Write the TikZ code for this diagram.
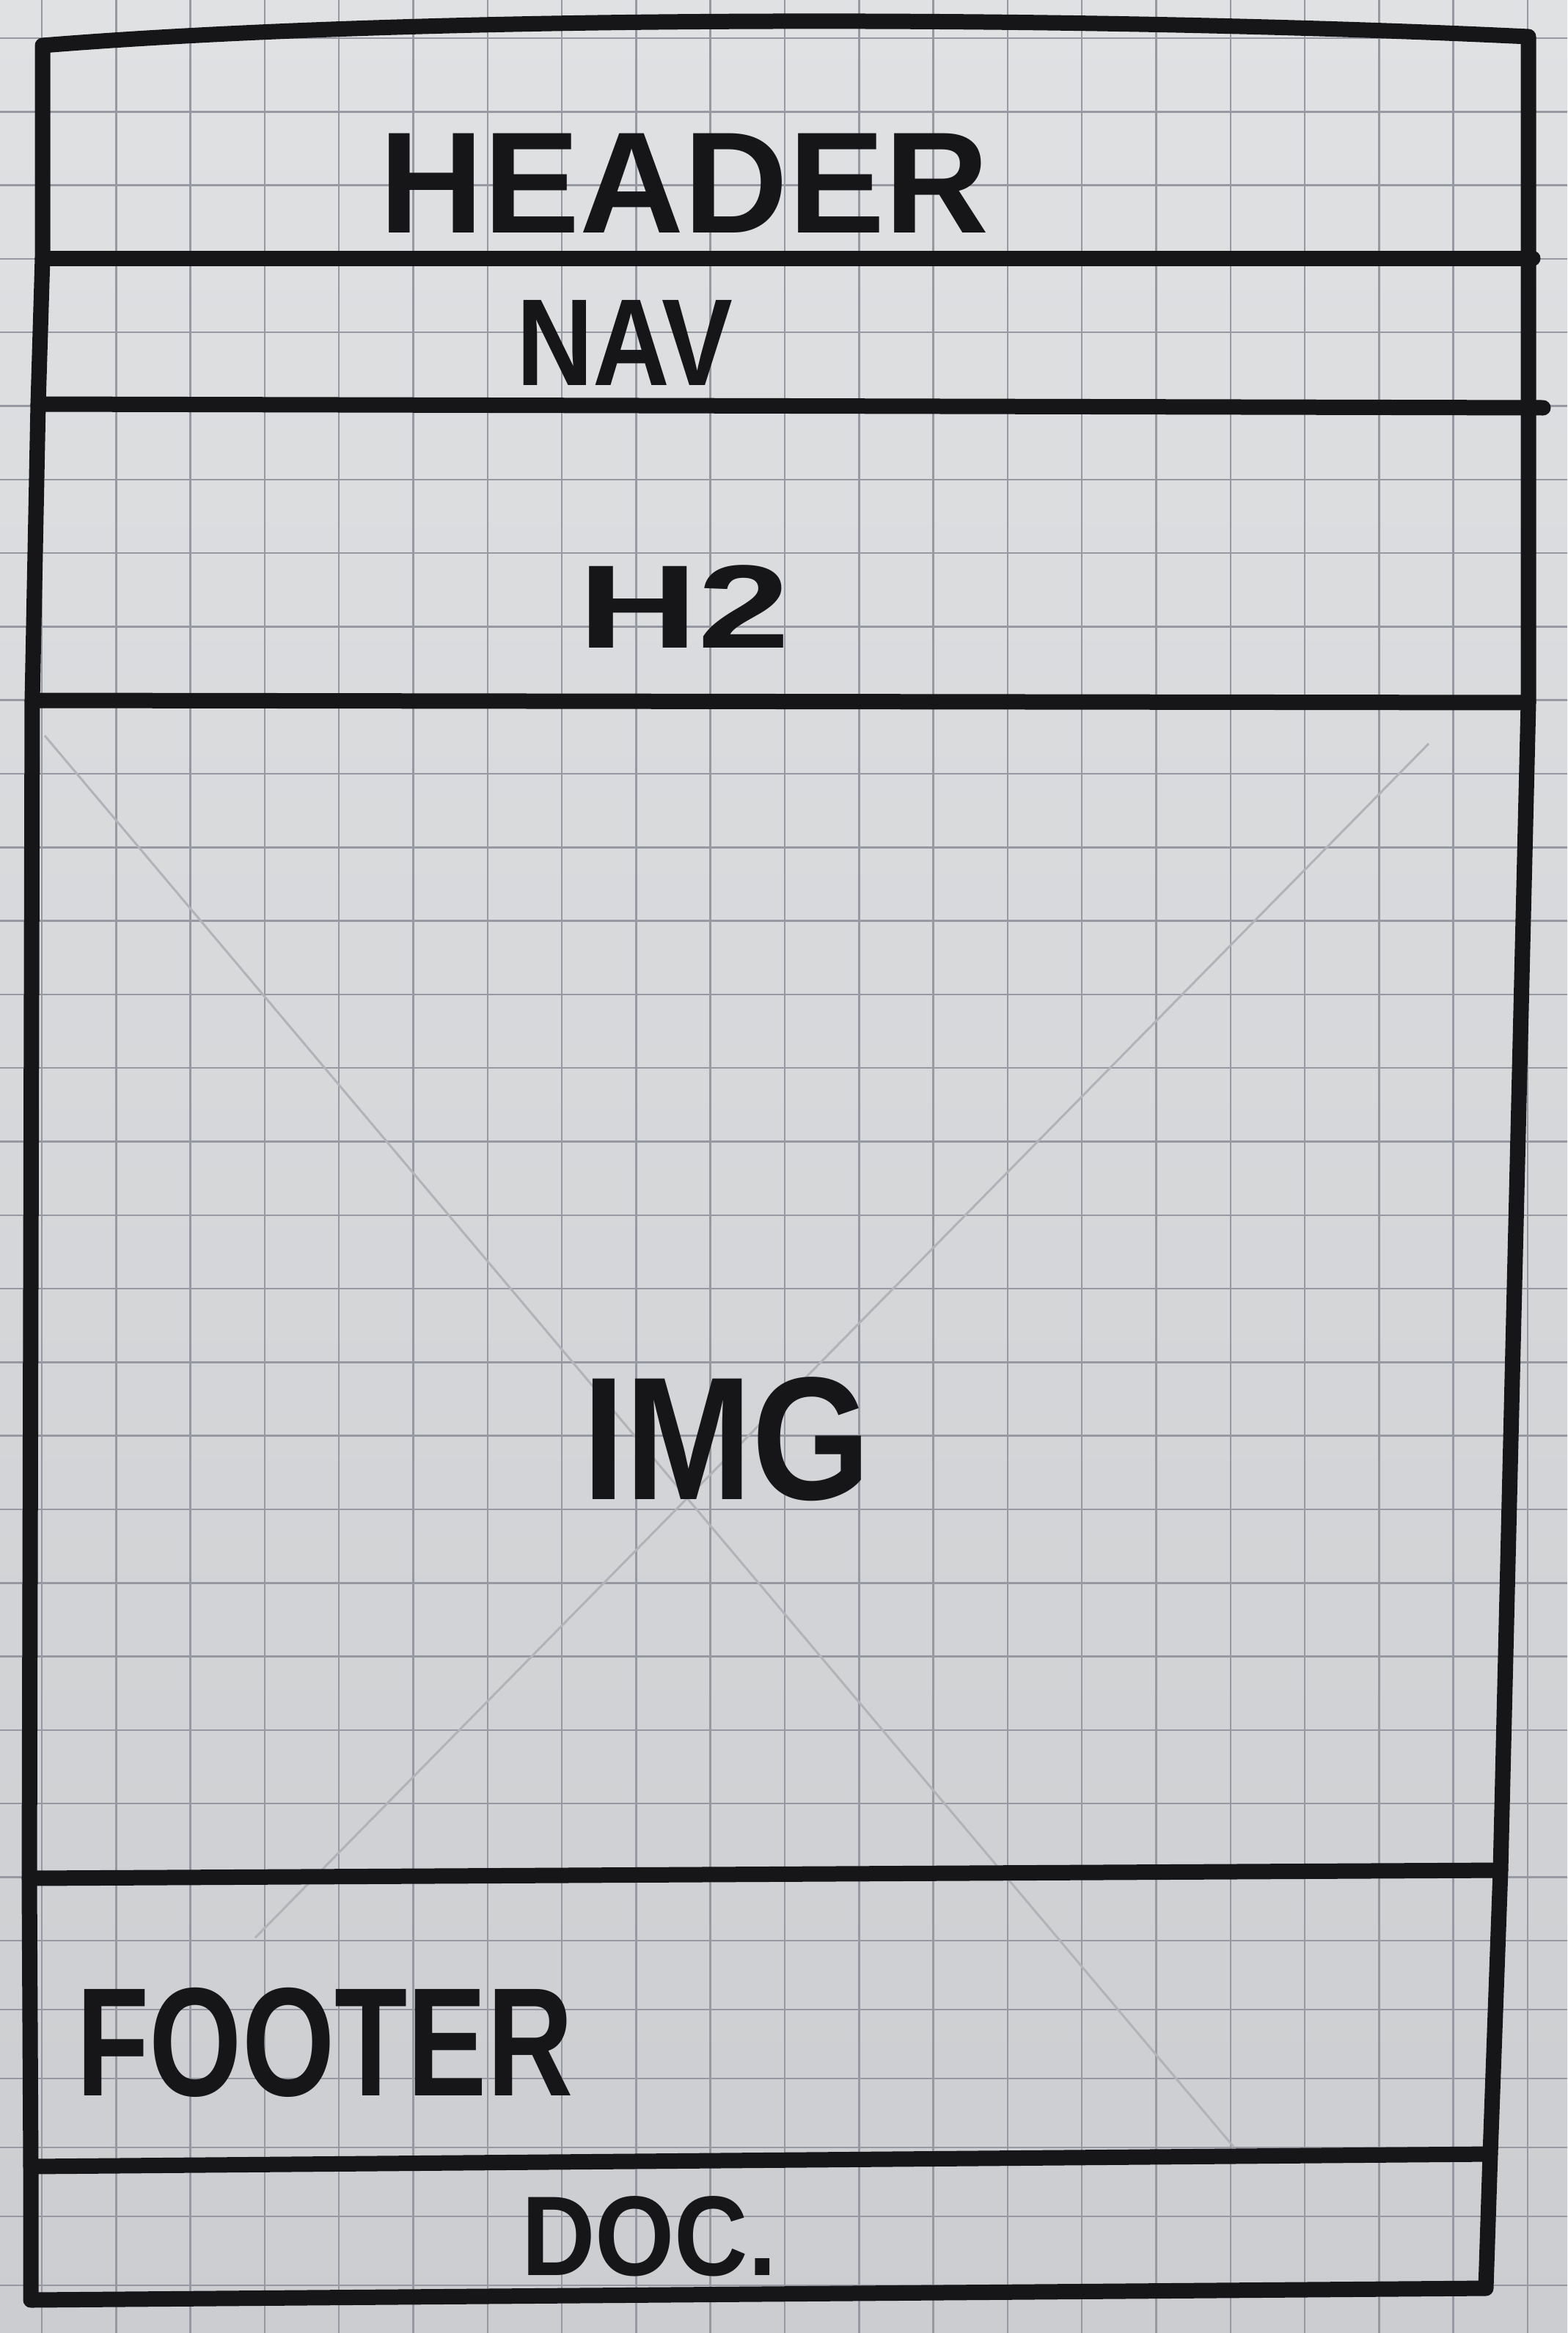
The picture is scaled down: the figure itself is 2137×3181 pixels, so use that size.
\documentclass[tikz,border=0pt]{standalone}
\usepackage{fontspec}
\setmainfont{Liberation Sans}
\usepackage{xcolor}
\usepackage{tikz}
\usetikzlibrary{calc}
\definecolor{paper}{RGB}{224,225,227}
\definecolor{paperdark}{RGB}{204,205,208}
\definecolor{gridline}{RGB}{150,153,162}
\definecolor{marker}{RGB}{22,22,24}
\definecolor{pencil}{RGB}{178,179,184}

\begin{document}
\begin{tikzpicture}[x=0.1mm, y=-0.1mm,
    pen/.style={draw=marker, line width=2.1mm, line cap=round, line join=round},
    scrawl/.style={text=marker, inner sep=0pt},
    pencilline/.style={draw=pencil, line width=0.3mm},
    gridrule/.style={draw=gridline, line width=0.25mm}]
    % paper and grid
    \useasboundingbox (0,0) rectangle (2137,3181);
    \shade[top color=paper, bottom color=paperdark] (0,0) rectangle (2137,3181);
    \foreach \gx in {0,...,20}
        \draw[gridrule] ({57+101.3*\gx},0) -- ({57+101.3*\gx},3181);
    \foreach \gy in {0,...,25}
        \draw[gridrule] (0,{52+100.3*\gy}) -- (2137,{52+100.3*\gy});
    \foreach \gy in {2646,2740,2834,2928,3022,3116}
        \draw[gridrule] (0,\gy) -- (2137,\gy);

    % corners and divider ends
    \coordinate (tl) at (58,62);
    \coordinate (tr) at (2084,50);
    \coordinate (br) at (2026,3120);
    \coordinate (bl) at (42,3136);
    \coordinate (hdl) at (58,352);   \coordinate (hdr) at (2090,352);
    \coordinate (nvl) at (52,551);   \coordinate (nvr) at (2104,556);
    \coordinate (h2l) at (44,955);   \coordinate (h2r) at (2084,958);
    \coordinate (ftl) at (40,2561);  \coordinate (ftr) at (2046,2550);
    \coordinate (dcl) at (42,2954);  \coordinate (dcr) at (2032,2937);

    % pencil cross of the image box
    \coordinate (xa) at (61,1003);   \coordinate (xb) at (1682,2927);
    \coordinate (xc) at (1948,1014); \coordinate (xd) at (348,2642);
    \draw[pencilline] (xa) -- (xb);
    \draw[pencilline] (xc) -- (xd);

    % outline
    \draw[pen] (bl) -- (dcl) -- (ftl) -- (h2l) -- (nvl) -- (hdl) -- (tl)
        .. controls (600,18) and (1500,22) .. (tr)
        -- (h2r) -- (ftr) -- (dcr) -- (br) -- cycle;
    \draw[pen] (hdl) -- (hdr);
    \draw[pen] (nvl) -- (nvr);
    \draw[pen] (h2l) -- (h2r);
    \draw[pen] (ftl) -- (ftr);
    \draw[pen] (dcl) -- (dcr);

    % labels
    \node[scrawl, font=\fontsize{56}{60}\selectfont\bfseries] (header) at (933,250) {HEADER};
    \node[scrawl, xscale=0.86, font=\fontsize{48}{52}\selectfont\bfseries] (nav) at (852,467) {NAV};
    \node[scrawl, xscale=1.4, font=\fontsize{46}{50}\selectfont\bfseries] (htwo) at (933,827) {H2};
    \node[scrawl, xscale=0.87, font=\fontsize{68}{72}\selectfont\bfseries] (img) at (991,1962) {IMG};
    \node[scrawl, xscale=0.77, font=\fontsize{60}{64}\selectfont\bfseries] (footer) at (443,2785) {FOOTER};
    \node[scrawl, xscale=0.9, font=\fontsize{44}{48}\selectfont\bfseries] (doc) at (885,3049) {DOC.};
\end{tikzpicture}
\end{document}
